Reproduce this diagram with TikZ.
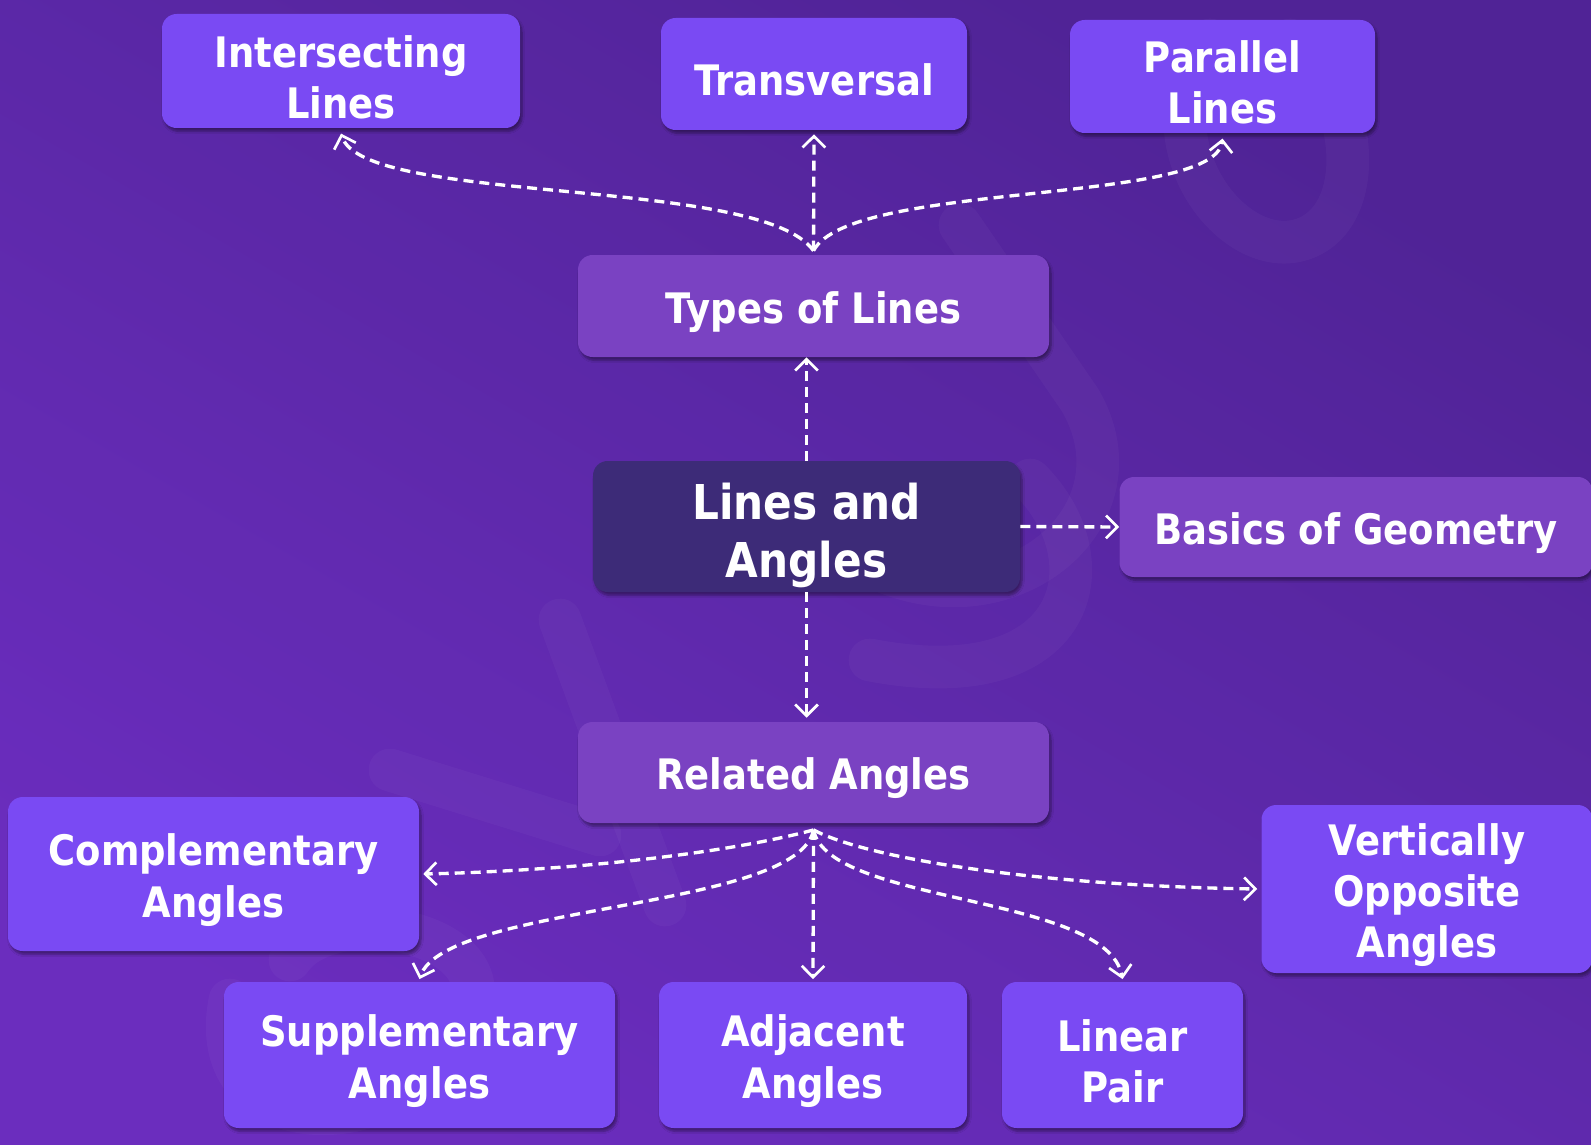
\documentclass[tikz,border=0pt]{standalone}
\usepackage{fontspec}
\setsansfont{DejaVu Sans}[FakeStretch=0.88]
\usetikzlibrary{arrows.meta,shadows.blur,calc}
\definecolor{bgA}{HTML}{6C2EC0}
\definecolor{bgB}{HTML}{4E2393}
\definecolor{vivid}{HTML}{7A4AF3}
\definecolor{midbox}{HTML}{7A42C2}
\definecolor{darkbox}{HTML}{3D2B78}
\tikzset{
  box/.style={rounded corners=11pt, text=white, align=center, inner sep=0pt,
    font=\sffamily\bfseries\fontsize{31.5}{38.5}\selectfont,
    blur shadow={shadow blur steps=6, shadow xshift=1.5pt, shadow yshift=-2.5pt, shadow opacity=40}},
  one/.style={text height=33pt},
  two/.style={text height=71.5pt},
  three/.style={text height=110pt},
  sz/.style 2 args={minimum width=#1*0.75pt, minimum height=#2*0.75pt},
  vbox/.style={box, fill=vivid},
  mbox/.style={box, fill=midbox},
  dbox/.style={box, fill=darkbox, font=\sffamily\bfseries\fontsize{36}{43.5}\selectfont, text height=84pt},
  conn/.style={white, line width=2.5pt, dash pattern=on 7.5pt off 4.5pt,
    -{Straight Barb[length=8.5pt, width=17pt, line width=2pt]}},
  wm/.style={white, opacity=0.03, line width=32pt, line cap=round}
}
\begin{document}
\begin{tikzpicture}[x=0.75pt, y=-0.75pt]
\useasboundingbox (0,0) rectangle (1591,1145);
\clip (0,0) rectangle (1591,1145);
\fill[bgA!70!bgB] (0,0) rectangle (1591,1145);
\shade[top color=bgB, bottom color=bgA, shading angle=-30, opacity=0.9] (0,0) rectangle (1591,1145);
% watermark
\draw[wm] (560,620) -- (665,905);
\draw[wm] (390,770) -- (600,835);
\draw[wm] (230,1000) .. controls (200,1150) and (420,1150) .. (470,1010) .. controls (500,930) and (330,900) .. (290,960);
\draw[wm] (960,225) -- (1080,400) .. controls (1150,520) and (1000,640) .. (860,560);
\draw[wm] (1030,480) .. controls (1110,560) and (1080,700) .. (870,660);
\draw[wm] (1210,40) .. controls (1140,140) and (1230,260) .. (1300,240) .. controls (1370,220) and (1360,90) .. (1290,40);
% nodes
\node[vbox, two, sz={358}{114}] (intl) at (341,71) {Intersecting\\Lines};
\node[vbox, one, sz={306}{112}] (trans) at (814,74) {Transversal};
\node[vbox, two, sz={305}{113}] (par) at (1222.5,76.5) {Parallel\\Lines};
\node[mbox, one, sz={471}{102}] (tol) at (813.5,306) {Types of Lines};
\node[dbox, sz={427}{131}] (la) at (806.5,526.5) {Lines and\\Angles};
\node[mbox, one, sz={473}{100}] (bog) at (1356,527) {Basics of Geometry};
\node[mbox, one, sz={471}{101}] (ra) at (813.5,772.5) {Related Angles};
\node[vbox, two, sz={411}{154}] (comp) at (213.5,874) {Complementary\\Angles};
\node[vbox, three, sz={331}{168}] (vo) at (1427,889) {Vertically\\Opposite\\Angles};
\node[vbox, two, sz={391}{146}] (sup) at (419.5,1055) {Supplementary\\Angles};
\node[vbox, two, sz={308}{146}] (adj) at (813,1055) {Adjacent\\Angles};
\node[vbox, two, sz={241}{146}] (lp) at (1122.5,1055) {Linear\\Pair};
% connectors
\coordinate (ts) at ([yshift=3pt]tol.north);
\draw[conn] (ts) .. controls +(-53,-75) and +(23,72) .. ([yshift=-4pt]intl.south);
\draw[conn] (ts) -- ([yshift=-3pt]trans.south);
\draw[conn] (ts) .. controls +(37,-70) and +(-8,67) .. ([yshift=-4pt]par.south);
\draw[conn] (la.north) -- (la.north |- tol.south);
\draw[conn] (la.east) -- (bog.west);
\draw[conn] (la.south) -- ([yshift=3pt]la.south |- ra.north);
\coordinate (rs) at ([yshift=-5pt]ra.south);
\draw[conn] (rs) .. controls +(-93,25) and +(138,-3) .. ([xshift=3pt]comp.east);
\draw[conn] (rs) .. controls +(-15,80) and +(25,-75) .. ([yshift=2pt]sup.north);
\draw[conn] (rs) -- ([yshift=2pt]adj.north);
\draw[conn] (rs) .. controls +(15,75) and +(-15,-85) .. ([yshift=2pt]lp.north);
\draw[conn] (rs) .. controls +(57,30) and +(-210,-3) .. ([xshift=-3pt]vo.west);
\end{tikzpicture}
\end{document}
